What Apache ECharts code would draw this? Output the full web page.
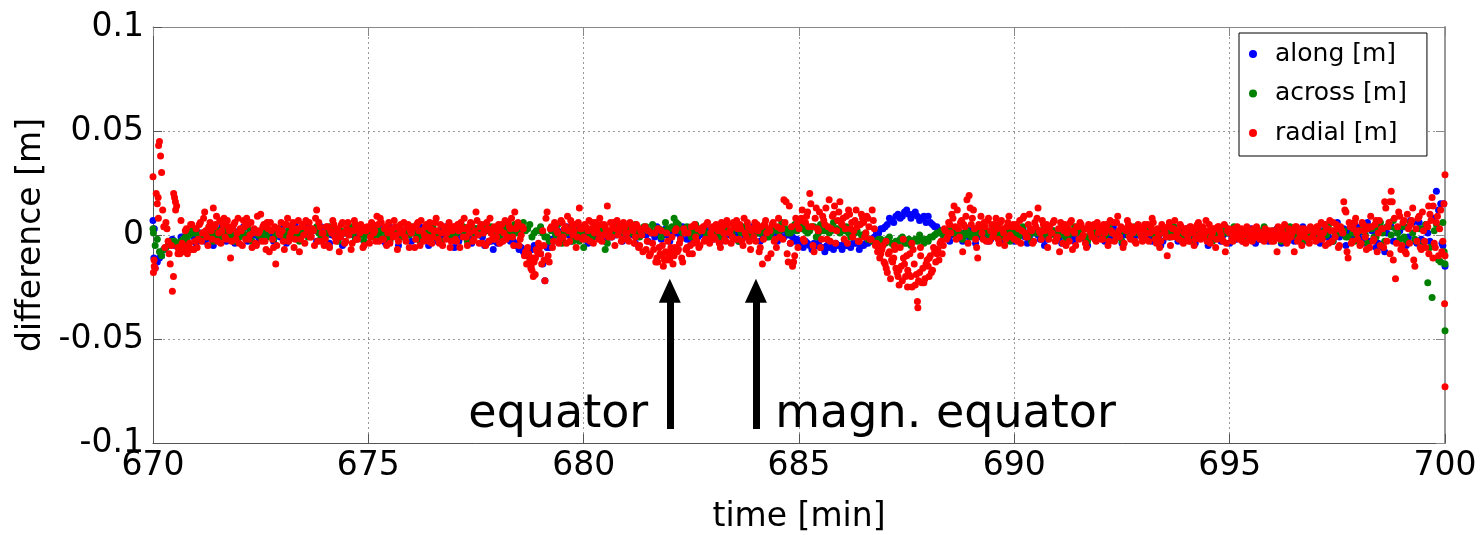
<!DOCTYPE html>
<html><head><meta charset="utf-8">
<script src="https://cdn.jsdelivr.net/npm/echarts@6/dist/echarts.min.js"></script>
<style>html,body{margin:0;padding:0;background:#fff}#c{width:1480px;height:535px}</style>
</head><body><div id="c"></div><script>
// ---- data (values in mm; one row per minute starting at 670 min) ----
const xTicks = [670, 675, 680, 685, 690, 695, 700];
const yTicks = [-0.1, -0.05, 0, 0.05, 0.1];
const seriesNames = ['along [m]', 'across [m]', 'radial [m]'];
const seriesColors = ['#0000ff', '#008000', '#ff0000'];
const startMin = 670;

const alongRows = [
  [7,-13,-10,-6,-3,-5,-4,-1,-6,2],
  [-4,1,-3,3,-5,0,4,-3,2,-4],
  [2,4,-3,1,-4,-2,5,1,-3,3],
  [3,-4,1,5,-2,4,5,2,-3,4],
  [1,-4,3,2,-5,1,3,5,2,-3],
  [3,5,2,-2,-4,4,1,-5,2,3],
  [-3,1,4,2,-5,0,-3,3,4,-2],
  [-6,-3,1,3,-4,3,0,-5,-3,-7],
  [-4,1,3,-3,-5,-7,-8,-10,-7,-6],
  [-9,-22,-6,-3,2,-2,4,-3,1,4],
  [3,-4,1,4,2,-3,-1,4,2,-3],
  [1,3,-4,0,3,-3,1,4,-2,3],
  [-3,1,3,4,-2,-3,3,0,4,2],
  [-2,3,-3,4,1,3,-3,1,2,4],
  [1,-3,3,0,4,-3,-1,2,-4,-3],
  [-4,-6,-4,-7,-5,-6,-8,-6,-7,-5],
  [-7,-5,-6,-4,-7,-5,-4,-3,1,3],
  [4,8,6,10,9,12,8,11,7,9],
  [9,5,4,2,-1,-3,1,2,-3,1],
  [3,-4,1,2,-3,4,0,-3,2,-1],
  [-3,1,3,-4,1,3,-2,-5,1,2],
  [-1,-4,2,1,-3,4,-1,-5,3,0],
  [3,-3,1,4,-1,-4,2,-1,-3,3],
  [-1,3,-3,1,-5,2,-1,4,-3,1],
  [3,-1,-4,3,0,-5,1,2,-3,1],
  [-4,1,2,-3,0,3,-4,-2,1,-3],
  [1,3,-4,4,-1,-3,2,4,-3,1],
  [3,-4,5,-1,-3,6,3,-5,2,5],
  [1,-4,6,2,-6,4,-8,5,-3,1],
  [4,-5,7,-3,6,-4,1,8,21,15],
  [-15]
];
const alongRowsB = [
  [-16,-11,-7,-5,-2,-4,-1,-2,0,-1],
  [1,-1,0,-2,2,-1,0,1,-1,0],
  [1,-1,2,0,-1,1,2,0,1,-1],
  [-1,1,2,0,3,2,0,2,3,1],
  [2,0,1,-1,1,2,0,-1,1,0],
  [2,1,0,3,1,-1,2,0,-1,2],
  [1,-1,0,2,-1,1,0,-1,1,-2],
  [-3,-1,1,-2,0,1,-1,-4,-3,-3],
  [-1,1,0,-2,-4,-6,-7,-7,-5,-9],
  [-14,-6,-2,0,1,2,0,1,-1,2],
  [0,1,-1,2,0,1,-1,0,2,0],
  [1,0,-1,1,0,1,-1,1,0,0],
  [0,1,-1,1,2,0,-1,1,0,2],
  [1,0,1,0,2,0,1,-1,2,1],
  [1,0,-1,1,0,1,-1,0,-1,-2],
  [-3,-3,-5,-4,-4,-6,-5,-5,-4,-5],
  [-4,-5,-4,-4,-5,-4,-2,-1,1,3],
  [5,7,9,8,11,10,10,9,8,6],
  [6,4,2,0,1,0,-1,0,1,-1],
  [0,-1,1,0,-2,1,-1,0,2,-1],
  [0,1,-1,-1,1,0,-2,-2,1,0],
  [-1,0,1,-1,0,1,-2,-1,0,1],
  [0,1,-1,1,-1,0,1,-1,0,0],
  [1,0,0,-1,-3,0,1,1,0,-1],
  [0,1,0,1,-1,-1,1,0,0,1],
  [-1,-2,0,0,-1,0,-1,-2,-1,0],
  [1,0,-1,1,-1,0,2,1,0,-1],
  [0,2,-1,-2,2,-1,3,1,-2,4],
  [-2,3,-3,2,-4,-6,1,4,-3,2],
  [4,-1,6,-4,-2,3,-3,8,12,-5]
];
const alongExtra = [[670.02,-11],[670.03,3],[699.97,15],[699.93,-4]];

const acrossRows = [
  [3,-2,-10,-6,-4,-3,-6,-2,-3,2],
  [3,-2,1,4,-3,2,-1,4,2,-3],
  [-1,3,4,-3,2,-1,4,2,-2,3],
  [2,-2,4,1,-3,3,-1,2,4,-1],
  [-1,4,2,-3,1,3,4,-2,2,-3],
  [3,-1,4,2,-1,-3,2,4,-1,2],
  [4,1,-3,-1,2,4,-1,-3,3,1],
  [-1,2,4,-3,1,3,4,5,2,-1],
  [2,-3,4,1,5,2,6,3,-1,2],
  [4,-1,-3,2,5,-4,1,3,2,-3],
  [-6,2,-1,4,2,-7,1,4,2,5],
  [3,1,5,-1,4,2,5,3,-1,6],
  [3,8,5,1,4,-1,5,3,2,-1],
  [2,4,-1,5,1,3,-3,4,2,-1],
  [4,1,5,-1,3,2,6,3,1,5],
  [3,5,1,4,-1,5,2,1,6,3],
  [2,4,-1,1,5,0,-2,-3,-4,-2],
  [-4,-1,-5,-3,-1,-4,-5,-2,0,-4],
  [-3,-1,1,2,-1,3,1,-1,-2,2],
  [-1,3,2,-2,1,2,4,-1,2,-3],
  [2,-1,4,1,-3,1,2,4,-1,2],
  [-1,3,-2,1,4,2,-1,-3,2,1],
  [2,-1,4,1,-1,-3,2,0,4,2],
  [-1,3,2,-3,1,2,-1,4,2,0],
  [2,-3,1,4,2,-1,-3,2,0,4],
  [1,4,2,-1,3,2,0,2,4,1],
  [2,-1,-3,2,4,0,1,-3,1,2],
  [3,-1,2,5,-3,3,1,-1,4,-3],
  [2,5,-4,3,-1,6,-3,4,7,1],
  [4,-3,6,-2,3,-5,-23,-30,5,-13],
  [-46]
];
const acrossRowsB = [
  [-5,-8,-7,-5,-3,-4,-3,-1,0,1],
  [0,1,-1,1,0,2,1,0,-1,1],
  [1,0,1,2,0,1,-1,2,0,2],
  [0,2,1,0,2,1,1,3,1,-1],
  [1,1,-1,2,1,0,1,2,0,0],
  [2,1,0,2,1,0,2,1,-1,0],
  [1,0,2,1,0,-1,1,2,0,1],
  [1,2,0,1,3,2,1,2,4,2],
  [0,3,1,2,1,3,2,5,1,2],
  [1,-1,2,0,-1,1,2,-3,0,1],
  [-2,0,3,1,2,-4,1,3,2,1],
  [3,2,1,2,4,2,1,3,2,3],
  [4,6,2,3,1,2,1,2,0,1],
  [2,1,3,2,0,3,1,2,0,2],
  [1,3,2,1,3,2,3,1,2,2],
  [3,2,2,4,1,2,3,2,3,1],
  [2,1,1,2,0,1,-2,-3,-2,-3],
  [-2,-4,-3,-2,-4,-2,-3,-3,-2,-2],
  [-1,0,1,0,1,1,0,1,0,0],
  [1,1,0,2,-1,0,1,1,0,2],
  [0,1,1,0,2,1,0,1,1,0],
  [1,0,0,1,1,0,-1,0,2,1],
  [0,1,1,0,1,2,0,1,1,0],
  [1,1,0,2,1,0,1,1,0,1],
  [0,1,1,0,1,2,0,0,1,1],
  [2,1,0,1,1,2,1,0,1,1],
  [0,1,0,2,1,1,0,0,1,2],
  [1,1,0,2,0,1,2,-1,1,0],
  [2,0,3,-1,3,1,4,0,3,-2],
  [-1,4,1,-3,3,5,-6,2,-12,6]
];
const acrossExtra = [[700,-14],[699.98,-8],[670.01,1]];

const radialRows = [
  [28,-16,15,45,30,4,6,-3,-14,-27,18,14,-8,7,-5,2,-9,-4,5,-7],
  [3,-2,6,1,11,-1,4,2,13,5,-3,7,2,8,-2,4,-11,3,6,1],
  [-4,2,7,-2,5,0,-6,3,-5,1,10,4,-3,6,-8,2,-6,-14,3,0],
  [2,-7,5,-3,1,6,-2,3,-8,4,0,7,2,-1,3,-5,12,6,-3,1],
  [-2,4,-6,1,5,-3,2,-1,6,-4,3,0,-7,2,5,-2,1,4,-5,2],
  [3,-1,5,2,9,-3,6,-2,4,1,-4,3,7,0,-3,5,2,-1,4,-6],
  [1,4,-2,6,-5,2,0,5,-3,3,-1,6,2,-4,1,4,-2,3,-6,2],
  [4,-3,2,6,-1,3,-5,1,5,-2,11,0,4,-4,2,6,-3,1,3,-2],
  [2,-4,5,1,-2,6,3,-1,11,4,-5,0,3,-8,-6,-12,-17,-13,-7,-4],
  [-9,2,-22,11,-13,4,-3,5,1,-2,6,3,-4,2,7,0,5,-1,13,3],
  [-1,4,2,-3,6,1,3,-2,5,0,4,14,2,-1,6,3,0,5,-2,4],
  [1,-3,5,2,-1,4,-5,0,3,-7,2,-9,-4,1,-11,-6,2,-15,-8,-3],
  [-12,-1,-10,3,-7,-2,-13,1,-6,-9,4,-4,-1,3,-5,2,-3,5,-2,1],
  [4,-2,3,-4,6,1,-3,5,2,-1,4,7,-2,3,-5,1,6,-3,2,-1],
  [-3,2,-6,-14,5,1,3,-9,6,-2,4,-1,3,17,16,-13,-4,-15,-10,5],
  [3,8,-2,6,11,20,4,-8,13,2,-6,9,5,-2,17,3,10,-4,7,16],
  [5,-2,9,12,3,-1,7,4,-3,10,6,1,8,-2,12,3,-4,-6,-9,-5],
  [-14,-18,-8,-12,-11,-16,-20,-6,-22,-14,-10,-19,-20,-7,-24,-32,-18,-23,-23,-14],
  [-15,-10,-17,-8,-9,-12,-3,-5,2,-1,5,10,14,-2,3,6,-8,4,17,19],
  [5,12,-2,-11,4,1,6,-3,8,2,-1,5,3,-4,7,1,-2,6,0,4],
  [-2,5,3,-4,8,1,-1,10,2,-3,4,13,1,7,2,5,-2,1,6,-3],
  [-1,-8,4,2,-5,3,6,-7,1,4,-2,5,0,-4,3,2,-1,5,-3,1],
  [4,-2,1,5,-3,2,6,0,9,-1,3,-4,2,5,-2,1,-3,4,2,-1],
  [3,-2,5,1,8,2,-4,0,-3,4,1,-10,6,-1,3,-1,2,5,-3,1],
  [2,-3,4,1,-2,5,0,3,-1,7,2,-4,1,3,-2,4,0,-3,-8,2],
  [1,-2,3,0,-1,2,-3,1,4,-2,0,3,-1,2,-2,1,-3,2,0,-1],
  [2,-1,-8,1,3,-2,0,-3,2,1,-8,4,-2,3,0,-1,2,-4,3,1],
  [-3,4,1,-2,5,3,-4,2,6,-1,3,-5,2,16,11,-11,4,-3,6,1],
  [2,-4,5,-1,3,-6,4,-2,7,1,-5,3,16,-3,6,21,-12,-21,4,9],
  [-5,7,-9,3,5,13,-15,-3,9,-7,2,-6,4,10,18,-4,6,-10,12,-3],
  [29]
];
const radialRowsB = [
  [-12,20,8,38,12,-6,3,-9,-5,-20,12,-6,-9,-4,-8,3,-6,5,-7,-3],
  [-6,5,-3,8,2,-5,6,-2,4,9,1,-4,5,-1,7,2,-3,5,-2,8],
  [3,-5,4,8,-2,6,1,-4,9,2,-3,5,-7,3,6,-2,4,-5,1,6],
  [-3,5,8,-1,4,-6,2,7,-2,5,-4,3,6,-1,2,8,-3,4,1,-5],
  [4,-5,2,7,-1,3,-8,5,1,-3,6,2,-4,7,-2,3,5,-6,2,4],
  [-4,6,1,-3,5,8,-2,3,-5,6,2,-1,4,-7,3,1,6,-3,5,2],
  [3,-6,5,2,7,-3,4,-1,6,-4,2,8,-2,5,-5,3,1,6,-3,4],
  [-2,5,-6,3,8,-1,4,6,-3,2,7,-4,5,1,-5,3,8,-2,4,-1],
  [5,2,-3,7,-1,4,8,-5,3,6,-2,4,-10,-14,-9,-16,-11,-19,-8,-6],
  [-14,-5,8,-10,3,-6,6,2,-4,7,-1,4,9,-3,5,2,-6,6,3,-2],
  [5,-2,7,3,-4,6,1,8,-3,5,2,-1,6,4,-5,7,2,-3,6,1],
  [-2,6,3,-4,5,-6,2,-8,4,-3,-10,1,-7,-13,3,-9,-5,-12,1,-10],
  [-6,-14,2,-8,-4,-11,3,-7,1,-5,-9,5,-3,-6,2,4,-2,6,-4,3],
  [-1,5,2,-6,4,-2,7,1,-4,6,-2,3,5,-3,8,-1,4,-7,3,6],
  [5,-8,4,-2,7,-11,2,5,-3,-6,8,3,-2,6,-9,14,4,-13,8,-6],
  [7,12,-3,9,4,15,-5,8,3,11,-2,7,13,4,-3,9,14,2,11,6],
  [8,3,-4,10,6,2,12,-3,5,8,-1,9,4,-2,7,-5,-8,-11,-7,-13],
  [-16,-9,-21,-13,-7,-18,-24,-15,-11,-20,-17,-9,-25,-14,-19,-22,-10,-16,-21,-12],
  [-11,-18,-6,-13,-7,-4,-9,3,-2,6,1,8,4,12,-1,7,5,9,-4,13],
  [8,3,-6,5,9,-2,4,7,-3,5,1,8,-2,6,3,-5,4,9,-1,5],
  [4,-3,7,2,9,-1,5,3,-4,6,8,2,-2,5,3,-6,4,1,7,-2],
  [3,6,-4,5,1,-3,7,2,-5,4,6,-1,3,-6,5,1,4,-2,6,3],
  [-2,5,3,-5,7,1,-3,6,2,4,-6,3,7,-1,4,2,-4,5,1,-3],
  [5,1,-3,4,6,-2,3,-6,5,2,-1,4,-5,3,7,1,-2,4,-4,3],
  [-1,4,2,-5,3,6,-2,4,1,-3,5,-1,3,-6,4,2,-2,5,-4,3],
  [2,-3,1,4,-2,3,0,-4,2,1,-3,2,4,-1,1,-2,3,-1,2,-3],
  [-3,2,4,-2,1,5,-4,3,-1,2,4,-3,1,-5,3,2,-2,4,-1,3],
  [4,-2,6,1,-5,3,7,-3,2,5,-6,4,1,12,-8,6,-4,3,8,-2],
  [-5,6,2,-7,4,9,-3,5,-8,7,3,-6,13,4,-9,16,8,-4,11,-7],
  [6,-8,10,-4,7,-12,3,8,-6,11,-3,5,-9,7,14,-6,9,3,-8,15]
];
const radialExtra = [
  [670.01,-18],[670.03,-15],[670.13,43],[670.12,18],[670.48,20],[670.52,16],
  [670.58,-9],[670.68,-8],[670.78,-6],[670.92,-7],[678.78,-15],[678.83,-20],
  [678.88,-11],[679.08,-12],[681.72,-13],[681.82,-10],[681.92,-12],[682.02,-8],
  [682.12,-6],[687.02,-3],[687.22,-5],[687.42,-2],[687.62,-4],[687.76,-35],
  [687.82,-6],[687.32,-17],[687.52,-25],[688.02,-20],[698.72,16],[699.62,14],
  [699.72,-11],[699.99,-33],[700,-73],[700,-10]
];

// annotations (data coordinates)
const arrowTimes = [682, 684];
const arrowFrom = -0.0933, arrowTo = -0.0268;
const annoTexts = [
  {text: 'equator', t: 681.5, v: -0.0865, align: 'right'},
  {text: 'magn. equator', t: 684.45, v: -0.0865, align: 'left'}
];

function build(sets, extra) {
  const out = [];
  sets.forEach(([rows, offset, step]) =>
    rows.forEach((row, m) => row.forEach((v, j) => out.push([startMin + m + offset + j * step, v / 1000]))));
  extra.forEach(p => out.push([p[0], p[1] / 1000]));
  return out;
}
const seriesData = [
  build([[alongRows, 0, 0.1], [alongRowsB, 0.05, 0.1]], alongExtra),
  build([[acrossRows, 0, 0.1], [acrossRowsB, 0.05, 0.1]], acrossExtra),
  build([[radialRows, 0, 0.05], [radialRowsB, 0.025, 0.05]], radialExtra)
];

const FONT = 'DejaVu Sans';
const chart = echarts.init(document.getElementById('c'), null, {renderer: 'canvas'});
const fmtY = v => String(Math.round(v * 1000) / 1000);

const series = seriesNames.map((name, i) => ({
  name, type: 'scatter', data: seriesData[i], symbol: 'circle', symbolSize: 7,
  itemStyle: {color: seriesColors[i], opacity: 1}, z: 2 + i, silent: true, large: false
}));
series.push({
  name: 'annotations', type: 'scatter', data: [], z: 10, silent: true,
  markLine: {
    silent: true, animation: false, symbol: ['none', 'triangle'], symbolSize: [22, 24],
    lineStyle: {color: '#000', width: 7, type: 'solid'},
    itemStyle: {color: '#000'}, label: {show: false},
    data: arrowTimes.map(t => [{coord: [t, arrowFrom]}, {coord: [t, arrowTo]}])
  },
  markPoint: {
    silent: true, animation: false, symbol: 'circle', symbolSize: 0,
    data: annoTexts.map(a => ({
      coord: [a.t, a.v], name: a.text,
      label: {show: true, position: 'inside', formatter: a.text, align: a.align,
        verticalAlign: 'middle', color: '#000', fontSize: 46, fontFamily: FONT}
    }))
  }
});

const option = {
  animation: false,
  backgroundColor: '#fff',
  textStyle: {fontFamily: FONT},
  grid: {left: 153, right: 35, top: 27, bottom: 92, containLabel: false, outerBoundsMode: 'none'},
  legend: {
    data: seriesNames, orient: 'vertical', left: 1239, top: 33,
    icon: 'circle', itemWidth: 34, itemHeight: 8, itemGap: 11.5,
    padding: [7, 20, 9, 10], borderColor: '#000', borderWidth: 1, backgroundColor: '#fff',
    textStyle: {fontSize: 25, color: '#000', fontFamily: FONT, lineHeight: 28},
    selectedMode: false
  },
  xAxis: [{
    type: 'value', min: xTicks[0], max: xTicks[xTicks.length - 1], interval: 5,
    name: 'time [min]', nameLocation: 'middle', nameGap: 58,
    nameTextStyle: {fontSize: 33, color: '#000', fontFamily: FONT},
    axisLine: {onZero: false, lineStyle: {color: '#555', width: 1}},
    axisTick: {inside: true, length: 9, lineStyle: {color: '#555'}},
    axisLabel: {fontSize: 33, color: '#000', margin: 7, fontFamily: FONT},
    splitLine: {show: true, lineStyle: {color: '#999', type: [2, 3], width: 1}}
  }, {
    type: 'value', position: 'top', min: xTicks[0], max: xTicks[xTicks.length - 1], interval: 5,
    axisLine: {show: true, onZero: false, lineStyle: {color: '#888', width: 1}},
    axisTick: {show: true, inside: true, length: 9, lineStyle: {color: '#888'}},
    axisLabel: {show: false}, splitLine: {show: false}
  }],
  yAxis: [{
    type: 'value', min: yTicks[0], max: yTicks[yTicks.length - 1], interval: 0.05,
    name: 'difference [m]', nameLocation: 'middle', nameGap: 96, nameRotate: 90,
    nameTextStyle: {fontSize: 33, color: '#000', fontFamily: FONT},
    axisLine: {show: true, onZero: false, lineStyle: {color: '#555', width: 1}},
    axisTick: {show: true, inside: true, length: 9, lineStyle: {color: '#555'}},
    axisLabel: {fontSize: 33, color: '#000', margin: 9, fontFamily: FONT, formatter: fmtY},
    splitLine: {show: true, lineStyle: {color: '#999', type: [2, 3], width: 1}}
  }, {
    type: 'value', position: 'right', min: yTicks[0], max: yTicks[yTicks.length - 1], interval: 0.05,
    axisLine: {show: true, onZero: false, lineStyle: {color: '#999', width: 2}},
    axisTick: {show: true, inside: true, length: 9, lineStyle: {color: '#888'}},
    axisLabel: {show: false}, splitLine: {show: false}
  }],
  series
};
chart.setOption(option);
</script></body></html>
